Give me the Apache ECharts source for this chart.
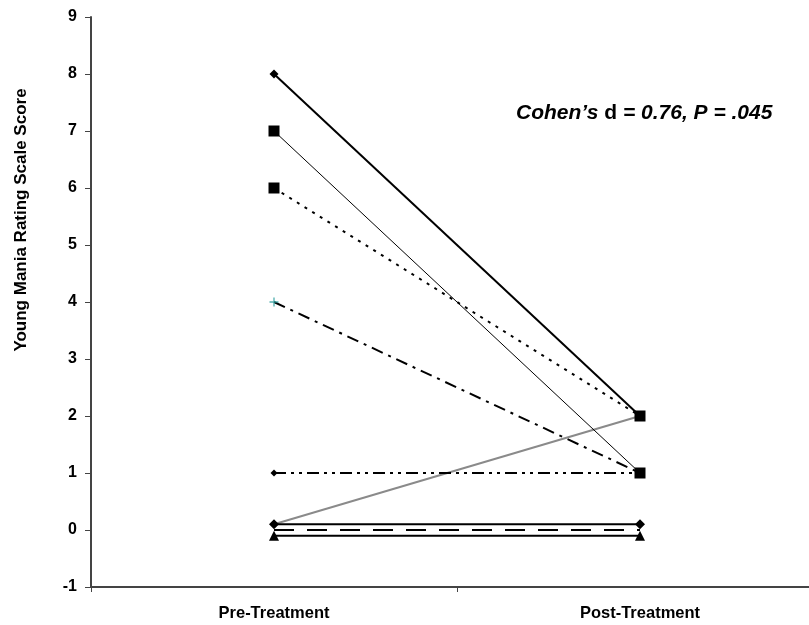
<!DOCTYPE html>
<html>
<head>
<meta charset="utf-8">
<script src="https://cdn.jsdelivr.net/npm/echarts@6/dist/echarts.min.js"></script>
<style>
  html, body { margin: 0; padding: 0; background: #fff; }
  #chart { width: 809px; height: 625px; }
</style>
</head>
<body>
<div id="chart"></div>
<script>
// Time points
const categories = ['Pre-Treatment', 'Post-Treatment'];

// Individual YMRS scores (pre, post)
const subjectA = [8, 2];
const subjectB = [7, 1];
const subjectC = [6, 2];
const subjectD = [4, 1];
const subjectE = [1, 1];
const subjectF = [0.1, 2];
const subjectG = [0.1, 0.1];
const subjectH = [0, 0];
const subjectI = [-0.1, -0.1];

const yTicks = [-1, 0, 1, 2, 3, 4, 5, 6, 7, 8, 9];
const yTitle = 'Young Mania Rating Scale Score';

const font = 'Arial, "Liberation Sans", sans-serif';

// Each time point sits in the middle of its own unit-wide slot on the x scale
const slot = i => i + 0.5;
const pairs = vals => vals.map((v, i) => [slot(i), v]);

function line(name, vals, opts) {
  return Object.assign({
    name: name,
    type: 'line',
    data: pairs(vals),
    symbol: 'none',
    symbolSize: 8,
    lineStyle: { color: '#000', width: 2, type: 'solid' },
    itemStyle: { color: '#000' },
    animation: false,
    z: 3
  }, opts);
}

const chart = echarts.init(document.getElementById('chart'));
chart.setOption({
  backgroundColor: '#fff',
  grid: { left: 91, right: 0, top: 17, bottom: 38, containLabel: false },
  title: {
    left: 511, top: 98,
    text: '{i|Cohen\u2019s }{b|d}{i| = 0.76, P = .045}',
    textStyle: {
      rich: {
        i: { fontFamily: font, fontSize: 21, fontWeight: 'bold', fontStyle: 'italic', color: '#000' },
        b: { fontFamily: font, fontSize: 21, fontWeight: 'bold', fontStyle: 'normal', color: '#000' }
      }
    }
  },
  // vertical axis title, set beside the upper part of the axis
  graphic: [{
    type: 'text',
    x: 21, y: 220,
    rotation: Math.PI / 2,
    style: {
      text: yTitle,
      fill: '#000',
      font: 'bold 17px ' + font,
      align: 'center',
      verticalAlign: 'middle'
    }
  }],
  xAxis: {
    type: 'value',
    min: 0, max: 718 / 366,
    splitLine: { show: false },
    axisLine: { onZero: false, lineStyle: { color: '#444', width: 2 } },
    axisTick: { show: true, length: 5, customValues: [0, 1, 2], lineStyle: { color: '#444', width: 1 } },
    axisLabel: {
      customValues: categories.map((c, i) => slot(i)),
      formatter: v => categories[Math.round(v - 0.5)] || '',
      color: '#000', fontFamily: font, fontSize: 16.5, fontWeight: 'bold', margin: 18
    }
  },
  yAxis: {
    type: 'value',
    min: -1, max: 9, interval: 1,
    splitLine: { show: false },
    axisLine: { show: true, onZero: false, lineStyle: { color: '#444', width: 2 } },
    axisTick: { show: true, length: 6, lineStyle: { color: '#444', width: 1 } },
    axisLabel: {
      color: '#000', fontFamily: font, fontSize: 16, fontWeight: 'bold', margin: 14,
      formatter: v => (yTicks.indexOf(v) >= 0 ? String(v) : '')
    }
  },
  series: [
    line('A', subjectA, { symbol: 'diamond', symbolSize: 9 }),
    line('B', subjectB, { symbol: 'rect', symbolSize: 11, lineStyle: { color: '#000', width: 1 } }),
    line('C', subjectC, { symbol: 'rect', symbolSize: 11, lineStyle: { color: '#000', width: 2, type: [3, 6] } }),
    line('D', subjectD, { symbol: 'none', lineStyle: { color: '#000', width: 2, type: [12, 6, 3, 6] } }),
    line('E', subjectE, { symbol: 'diamond', symbolSize: 7, lineStyle: { color: '#000', width: 2, type: [12, 5, 3, 5, 3, 5] } }),
    line('F', subjectF, { symbol: 'none', lineStyle: { color: '#8a8a8a', width: 2 }, z: 2 }),
    line('G', subjectG, { symbol: 'diamond', symbolSize: 10 }),
    line('H', subjectH, { symbol: 'none', lineStyle: { color: '#000', width: 2, type: [20, 13] } }),
    line('I', subjectI, { symbol: 'triangle', symbolSize: 10 }),
    // teal cross marking subject D's baseline
    {
      name: 'D-mark', type: 'scatter', data: [[slot(0), subjectD[0]]],
      symbol: 'path://M-1,-0.15 L1,-0.15 L1,0.15 L-1,0.15 Z M-0.15,-1 L0.15,-1 L0.15,1 L-0.15,1 Z',
      symbolSize: 9, itemStyle: { color: '#2a9d9d' }, animation: false, z: 5
    }
  ]
});
</script>
</body>
</html>
